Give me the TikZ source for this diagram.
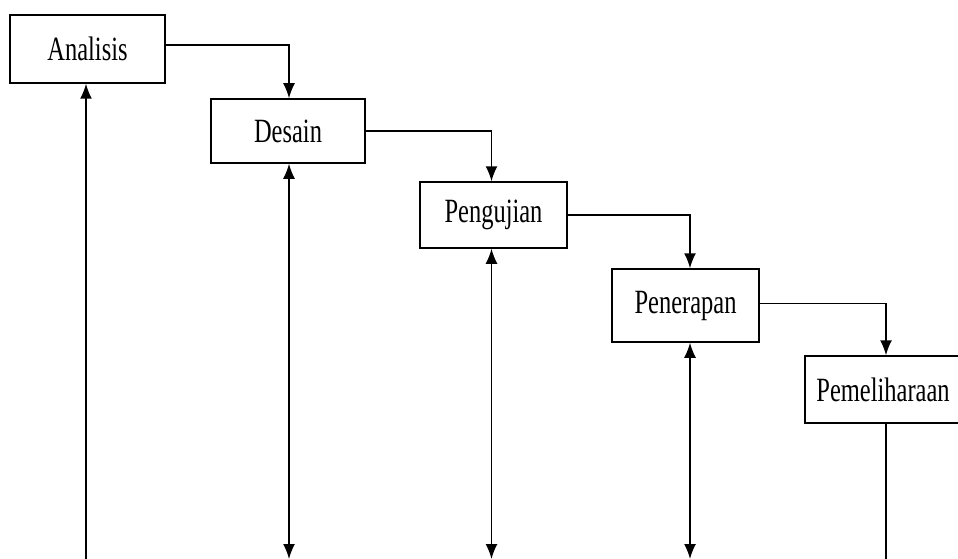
\documentclass[tikz,border=0pt]{standalone}
\usepackage{fontspec}
\setmainfont{Liberation Serif}[FakeStretch=0.72]
\usepackage{tikz}
\usetikzlibrary{arrows.meta,positioning}
\tikzset{
  block/.style = {rectangle, draw, line width=1.5pt, fill=white, text centered,
    minimum width=150pt, minimum height=66pt, inner sep=0pt,
    font=\fontsize{34}{38}\selectfont},
  line/.style = {draw, line width=1.5pt, -{Latex[length=15pt,width=12pt]}},
  both/.style = {draw, line width=1.5pt, {Latex[length=15pt,width=12pt]}-{Latex[length=15pt,width=12pt]}}
}

\begin{document}
\begin{tikzpicture}[x=1pt,y=-1pt]
\useasboundingbox (0,0) rectangle (958,559);
\node [block, minimum width=155pt, minimum height=68pt] (analisis) at (87.5,49) {Analisis};
\node [block, minimum width=154pt, minimum height=64pt] (desain) at (288,131) {Desain};
\node [block, minimum width=147pt] (pengujian) at (493.5,215) {Pengujian};
\node [block, minimum width=147pt, minimum height=73pt] (penerapan) at (685.5,305.5) {Penerapan};
\node [block, minimum width=156pt, minimum height=67pt] (pemeliharaan) at (883,389.5) {Pemeliharaan};

% waterfall steps
\path [line] ([yshift=4pt]analisis.east) -| ([xshift=1pt]desain.north);
\path [line] (desain.east) -| ([xshift=-2pt]pengujian.north);
\path [line] (pengujian.east) -| ([xshift=4.5pt]penerapan.north);
\path [line] ([yshift=2pt]penerapan.east) -| ([xshift=3pt]pemeliharaan.north);

% feedback lines at the bottom
\coordinate (a-bot) at ([xshift=-1.5pt]analisis.south |- 0,559);
\coordinate (d-bot) at ([xshift=1pt]desain.south |- 0,559);
\coordinate (p-bot) at ([xshift=-2pt]pengujian.south |- 0,559);
\coordinate (t-bot) at ([xshift=4.5pt]penerapan.south |- 0,559);
\coordinate (m-bot) at ([xshift=3pt]pemeliharaan.south |- 0,559);
\path [line] (a-bot) -- (a-bot |- analisis.south);
\path [both] (d-bot |- desain.south) -- (d-bot);
\path [both] (p-bot |- pengujian.south) -- (p-bot);
\path [both] (t-bot |- penerapan.south) -- (t-bot);
\draw [line width=1.5pt] (m-bot |- pemeliharaan.south) -- (m-bot);
\end{tikzpicture}
\end{document}
